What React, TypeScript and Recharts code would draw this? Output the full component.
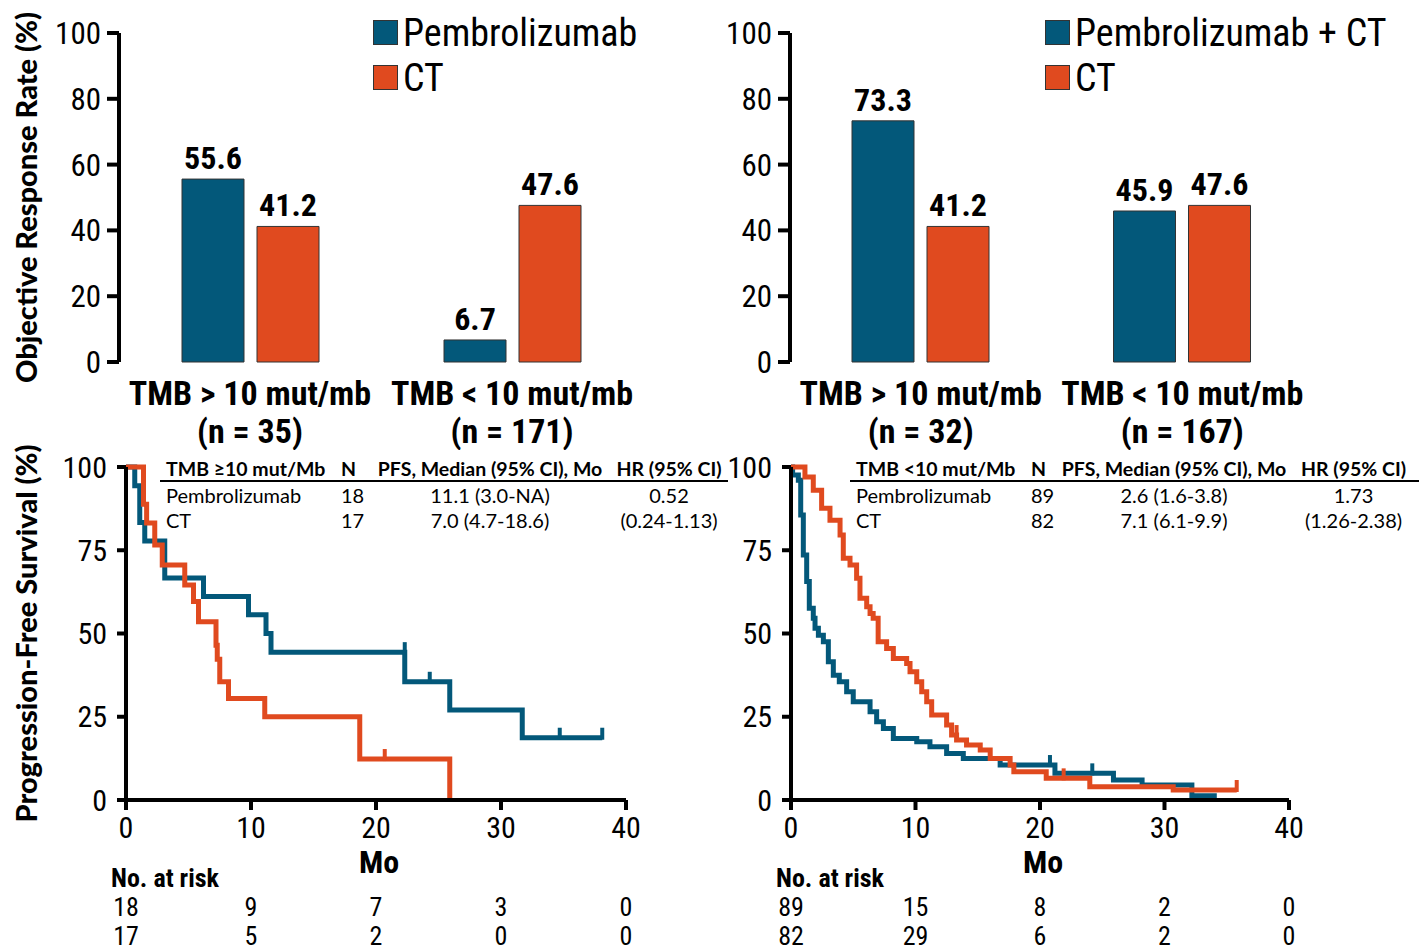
import React from "react";
import {
  BarChart,
  Bar,
  XAxis,
  YAxis,
  LabelList,
  Legend,
  Label,
  ComposedChart,
  Line,
  Scatter,
} from "recharts";

const BLUE = "#03587a";
const ORANGE = "#e04a1f";
const NARROW = "'Liberation Sans Narrow', 'Roboto Condensed', 'Liberation Sans', sans-serif";
const SANS = "Lato, 'Open Sans', sans-serif";
const AXIS = { stroke: "#000", strokeWidth: 4 };

// objective response rate panels
const groups = ["TMB > 10 mut/mb", "TMB < 10 mut/mb"];
const ormTicks = [0, 20, 40, 60, 80, 100];
const monoN = ["(n = 35)", "(n = 171)"];
const monoPembro = [55.6, 6.7];
const monoCT = [41.2, 47.6];
const comboN = ["(n = 32)", "(n = 167)"];
const comboPembro = [73.3, 45.9];
const comboCT = [41.2, 47.6];

// PFS panels (months, % progression-free)
const monthTicks = [0, 10, 20, 30, 40];
const pfsTicks = [0, 25, 50, 75, 100];

const hiPembro = [
  { t: 0, s: 100 }, { t: 0.7, s: 94.4 }, { t: 1.1, s: 83.3 }, { t: 1.5, s: 77.8 },
  { t: 3.1, s: 66.7 }, { t: 6.2, s: 61.1 }, { t: 9.8, s: 55.6 }, { t: 11.2, s: 50.0 },
  { t: 11.6, s: 44.4 }, { t: 22.3, s: 35.5 }, { t: 25.9, s: 27.0 }, { t: 31.7, s: 18.7 },
  { t: 38.1, s: 18.7 },
];
const hiPembroCens = [
  { t: 22.3, s: 44.4 }, { t: 24.3, s: 35.5 }, { t: 34.7, s: 18.7 }, { t: 38.1, s: 18.7 },
];
const hiCT = [
  { t: 0, s: 100 }, { t: 1.4, s: 88.8 }, { t: 1.65, s: 83.2 }, { t: 2.3, s: 76.6 },
  { t: 2.9, s: 70.6 }, { t: 4.7, s: 64.6 }, { t: 5.4, s: 59.6 }, { t: 5.8, s: 53.5 },
  { t: 7.2, s: 46.5 }, { t: 7.3, s: 42.3 }, { t: 7.5, s: 35.5 }, { t: 8.2, s: 30.5 },
  { t: 11.1, s: 25.0 }, { t: 18.7, s: 12.3 }, { t: 25.9, s: 0 },
];
const hiCTCens = [{ t: 20.7, s: 12.3 }];

const loPembro = [
  { t: 0, s: 100 }, { t: 0.13, s: 97.6 }, { t: 0.59, s: 96 }, { t: 0.78, s: 85.6 },
  { t: 0.99, s: 73.6 }, { t: 1.26, s: 65.6 }, { t: 1.47, s: 57.6 }, { t: 1.79, s: 54.6 },
  { t: 1.93, s: 51.6 }, { t: 2.2, s: 49.5 }, { t: 2.6, s: 47.5 }, { t: 3.0, s: 41.5 },
  { t: 3.4, s: 37.5 }, { t: 3.88, s: 35.5 }, { t: 4.47, s: 32.5 }, { t: 5.0, s: 29.5 },
  { t: 6.35, s: 26.5 }, { t: 6.88, s: 23.5 }, { t: 7.42, s: 21.5 }, { t: 8.22, s: 18.5 },
  { t: 10.1, s: 17.5 }, { t: 11.16, s: 16 }, { t: 12.5, s: 14 }, { t: 13.84, s: 12.5 },
  { t: 16.8, s: 10.5 }, { t: 21.2, s: 8 }, { t: 25.9, s: 6 }, { t: 28.2, s: 4.5 },
  { t: 32.2, s: 1.3 }, { t: 34.2, s: 1.3 },
];
const loPembroCens = [{ t: 20.8, s: 10.5 }, { t: 24.2, s: 8 }];
const loCT = [
  { t: 0, s: 100 }, { t: 1.12, s: 97 }, { t: 1.79, s: 93 }, { t: 2.46, s: 87.6 },
  { t: 3.13, s: 84 }, { t: 3.94, s: 79.6 }, { t: 4.2, s: 72.6 }, { t: 4.74, s: 70.6 },
  { t: 5.27, s: 66.6 }, { t: 5.54, s: 60.6 }, { t: 6.08, s: 58 }, { t: 6.35, s: 56 },
  { t: 6.6, s: 54.6 }, { t: 7.0, s: 47.5 }, { t: 7.68, s: 45.5 }, { t: 8.22, s: 42.5 },
  { t: 9.29, s: 41 }, { t: 9.56, s: 38.5 }, { t: 10.1, s: 35.5 }, { t: 10.5, s: 32.5 },
  { t: 10.9, s: 29.5 }, { t: 11.3, s: 25.5 }, { t: 12.5, s: 22.5 }, { t: 12.9, s: 19.5 },
  { t: 13.3, s: 18 }, { t: 14.1, s: 16.5 }, { t: 15.2, s: 15 }, { t: 16.0, s: 12.5 },
  { t: 17.6, s: 10.5 }, { t: 17.9, s: 8.5 }, { t: 20.5, s: 6.5 }, { t: 24.0, s: 4 },
  { t: 30.7, s: 3 }, { t: 35.8, s: 3 },
];
const loCTCens = [{ t: 13.3, s: 19.5 }, { t: 21.9, s: 6.5 }, { t: 35.8, s: 3 }];

const hiRiskPembro = [18, 9, 7, 3, 0];
const hiRiskCT = [17, 5, 2, 0, 0];
const loRiskPembro = [89, 15, 8, 2, 0];
const loRiskCT = [82, 29, 6, 2, 0];

const hiHead = ["TMB ≥10 mut/Mb", "N", "PFS, Median (95% CI), Mo", "HR (95% CI)"];
const hiRows = [
  ["Pembrolizumab", "18", "11.1 (3.0-NA)", "0.52"],
  ["CT", "17", "7.0 (4.7-18.6)", "(0.24-1.13)"],
];
const loHead = ["TMB <10 mut/Mb", "N", "PFS, Median (95% CI), Mo", "HR (95% CI)"];
const loRows = [
  ["Pembrolizumab", "89", "2.6 (1.6-3.8)", "1.73"],
  ["CT", "82", "7.1 (6.1-9.9)", "(1.26-2.38)"],
];

const renderLegend = (props: any) => {
  // keep the treatment arm above CT
  const items = [...props.payload].sort(
    (a: any, b: any) => Number(a.value === "CT") - Number(b.value === "CT")
  );
  return (
    <div>
      {items.map((entry: any) => (
        <div key={entry.value} style={{ display: "flex", alignItems: "center", height: 45 }}>
          <span
            style={{
              width: 23,
              height: 23,
              background: entry.color,
              border: "1px solid #333",
              marginRight: 5,
            }}
          />
          <span style={{ fontFamily: NARROW, fontSize: 38, color: "#000", lineHeight: 1 }}>
            {entry.value}
          </span>
        </div>
      ))}
    </div>
  );
};

function OrrPanel(props: any) {
  const { left, width, yWidth, right, pembroName, pembro, ct, nLabels, legendLeft, title } = props;
  const rows = groups.map((g, i) => ({ group: g, pembro: pembro[i], ct: ct[i] }));
  const catTick = (p: any) => {
    const i = groups.indexOf(p.payload.value);
    const style = { fontFamily: NARROW, fontSize: 34, fontWeight: "bold" as const, fill: "#000" };
    return (
      <g>
        <text x={p.x} y={p.y} dy={41} textAnchor="middle" {...style}>{p.payload.value}</text>
        <text x={p.x} y={p.y} dy={79} textAnchor="middle" {...style}>{nLabels[i]}</text>
      </g>
    );
  };
  const valueStyle = { fontFamily: NARROW, fontSize: 32, fontWeight: "bold", fill: "#000" };
  return (
    <div style={{ position: "absolute", left, top: 0 }}>
      <BarChart
        width={width}
        height={450}
        data={rows}
        margin={{ top: 33, right, left: 0, bottom: 0 }}
        barSize={62}
        barGap={13}
      >
        <XAxis
          xAxisId="edge"
          type="number"
          domain={[0, 2]}
          ticks={[0, 1, 2]}
          allowDataOverflow
          height={0}
          tick={false}
          tickSize={13}
          axisLine={AXIS}
          tickLine={AXIS}
        />
        <XAxis
          xAxisId="cat"
          dataKey="group"
          height={88}
          axisLine={false}
          tickLine={false}
          tickSize={0}
          interval={0}
          tick={catTick}
        />
        <YAxis
          domain={[0, 100]}
          ticks={ormTicks}
          width={yWidth}
          tickSize={12}
          tickMargin={6}
          axisLine={AXIS}
          tickLine={AXIS}
          tick={{ fontFamily: NARROW, fontSize: 31, fill: "#000" }}
          label={
            title
              ? {
                  value: title,
                  angle: -90,
                  position: "insideLeft",
                  offset: 27,
                  style: { textAnchor: "middle", fontFamily: SANS, fontWeight: 900, fontSize: 29, fill: "#000" },
                }
              : undefined
          }
        />
        <Legend
          layout="vertical"
          align="center"
          verticalAlign="middle"
          content={renderLegend}
          wrapperStyle={{ top: 10, left: legendLeft, width: "auto" }}
        />
        <Bar xAxisId="cat" dataKey="pembro" name={pembroName} fill={BLUE} stroke="#333" strokeWidth={1} isAnimationActive={false}>
          <LabelList dataKey="pembro" position="top" offset={10} {...valueStyle} />
        </Bar>
        <Bar xAxisId="cat" dataKey="ct" name="CT" fill={ORANGE} stroke="#333" strokeWidth={1} isAnimationActive={false}>
          <LabelList dataKey="ct" position="top" offset={10} {...valueStyle} />
        </Bar>
      </BarChart>
    </div>
  );
}

const CensorMark = (props: any) => {
  const { cx, cy, fill } = props;
  return <line x1={cx} y1={cy + 2} x2={cx} y2={cy - 10} stroke={fill} strokeWidth={4} />;
};

function KmPanel(props: any) {
  const { left, width, yWidth, right, title, pembro, pembroCens, ct, ctCens, riskA, riskB } = props;
  const monthTick = (p: any) => {
    const i = monthTicks.indexOf(p.payload.value);
    const base = { fontFamily: NARROW, fill: "#000", textAnchor: "middle" as const };
    return (
      <g>
        <text x={p.x} y={p.y} dy={26} fontSize={30} {...base}>{p.payload.value}</text>
        <text x={p.x} y={p.y} dy={104} fontSize={26} {...base}>{riskA[i]}</text>
        <text x={p.x} y={p.y} dy={133} fontSize={26} {...base}>{riskB[i]}</text>
      </g>
    );
  };
  return (
    <div style={{ position: "absolute", left, top: 440 }}>
      <ComposedChart width={width} height={512} margin={{ top: 27, right, left: 0, bottom: 0 }}>
        <XAxis
          dataKey="t"
          type="number"
          domain={[0, 40]}
          ticks={monthTicks}
          interval={0}
          height={152}
          tickSize={10}
          tickMargin={2}
          axisLine={AXIS}
          tickLine={AXIS}
          tick={monthTick}
        >
          <Label
            content={(lp: any) => (
              <text
                x={lp.viewBox.x + lp.viewBox.width / 2 + 3}
                y={lp.viewBox.y + 73}
                textAnchor="middle"
                fontFamily={NARROW}
                fontWeight="bold"
                fontSize={32}
                fill="#000"
              >
                Mo
              </text>
            )}
          />
          <Label
            content={(lp: any) => (
              <text
                x={lp.viewBox.x - 15}
                y={lp.viewBox.y + 87}
                fontFamily={NARROW}
                fontWeight="bold"
                fontSize={26}
                fill="#000"
              >
                No. at risk
              </text>
            )}
          />
        </XAxis>
        <YAxis
          type="number"
          domain={[0, 100]}
          ticks={pfsTicks}
          width={yWidth}
          tickSize={9}
          tickMargin={10}
          axisLine={AXIS}
          tickLine={AXIS}
          tick={{ fontFamily: NARROW, fontSize: 30, fill: "#000" }}
          label={
            title
              ? {
                  value: title,
                  angle: -90,
                  position: "insideLeft",
                  offset: 27,
                  style: { textAnchor: "middle", fontFamily: SANS, fontWeight: 900, fontSize: 29, fill: "#000" },
                }
              : undefined
          }
        />
        <Line data={pembro} dataKey="s" type="stepAfter" stroke={BLUE} strokeWidth={5} dot={false} isAnimationActive={false} />
        <Scatter data={pembroCens} dataKey="s" fill={BLUE} shape={CensorMark} isAnimationActive={false} />
        <Line data={ct} dataKey="s" type="stepAfter" stroke={ORANGE} strokeWidth={5} dot={false} isAnimationActive={false} />
        <Scatter data={ctCens} dataKey="s" fill={ORANGE} shape={CensorMark} isAnimationActive={false} />
      </ComposedChart>
    </div>
  );
}

function PfsTable(props: any) {
  const { left, widths, head, rows } = props;
  const align = ["left", "left", "center", "center"] as const;
  const total = widths.reduce((a: number, b: number) => a + b, 0);
  const cell = (i: number, bold: boolean) => ({
    width: widths[i],
    padding: 0,
    paddingLeft: i < 2 ? 6 : 0,
    textAlign: align[i],
    fontWeight: bold ? 700 : 400,
    whiteSpace: "nowrap" as const,
    overflow: "visible" as const,
  });
  return (
    <table
      style={{
        position: "absolute",
        left,
        top: 457,
        width: total,
        borderCollapse: "collapse",
        borderSpacing: 0,
        fontFamily: SANS,
        fontSize: 20,
        color: "#000",
        tableLayout: "fixed",
      }}
    >
      <colgroup>
        {widths.map((w: number, i: number) => (
          <col key={i} style={{ width: w }} />
        ))}
      </colgroup>
      <tbody>
        <tr style={{ height: 24, borderBottom: "2px solid #000" }}>
          {head.map((h: string, i: number) => (
            <td key={h} style={{ ...cell(i, true), fontSize: 19.5 }}>{h}</td>
          ))}
        </tr>
        {rows.map((r: string[]) => (
          <tr key={r[0]} style={{ height: 26 }}>
            {r.map((c, i) => (
              <td key={i} style={cell(i, false)}>{c}</td>
            ))}
          </tr>
        ))}
      </tbody>
    </table>
  );
}

export default function App() {
  return (
    <div style={{ position: "absolute", left: 0, top: 0, width: 1419, height: 952, background: "#fff", overflow: "hidden" }}>
      <OrrPanel
        left={0}
        width={660}
        yWidth={119}
        right={17}
        pembroName="Pembrolizumab"
        pembro={monoPembro}
        ct={monoCT}
        nLabels={monoN}
        legendLeft={373}
        title="Objective Response Rate (%)"
      />
      <OrrPanel
        left={700}
        width={719}
        yWidth={90}
        right={106}
        pembroName="Pembrolizumab + CT"
        pembro={comboPembro}
        ct={comboCT}
        nLabels={comboN}
        legendLeft={345}
      />
      <KmPanel
        left={0}
        width={660}
        yWidth={126}
        right={34}
        title="Progression-Free Survival (%)"
        pembro={hiPembro}
        pembroCens={hiPembroCens}
        ct={hiCT}
        ctCens={hiCTCens}
        riskA={hiRiskPembro}
        riskB={hiRiskCT}
      />
      <KmPanel
        left={700}
        width={719}
        yWidth={91}
        right={130}
        pembro={loPembro}
        pembroCens={loPembroCens}
        ct={loCT}
        ctCens={loCTCens}
        riskA={loRiskPembro}
        riskB={loRiskCT}
      />
      <PfsTable left={160} widths={[175, 35, 240, 118]} head={hiHead} rows={hiRows} />
      <PfsTable left={850} widths={[175, 35, 228, 131]} head={loHead} rows={loRows} />
    </div>
  );
}
